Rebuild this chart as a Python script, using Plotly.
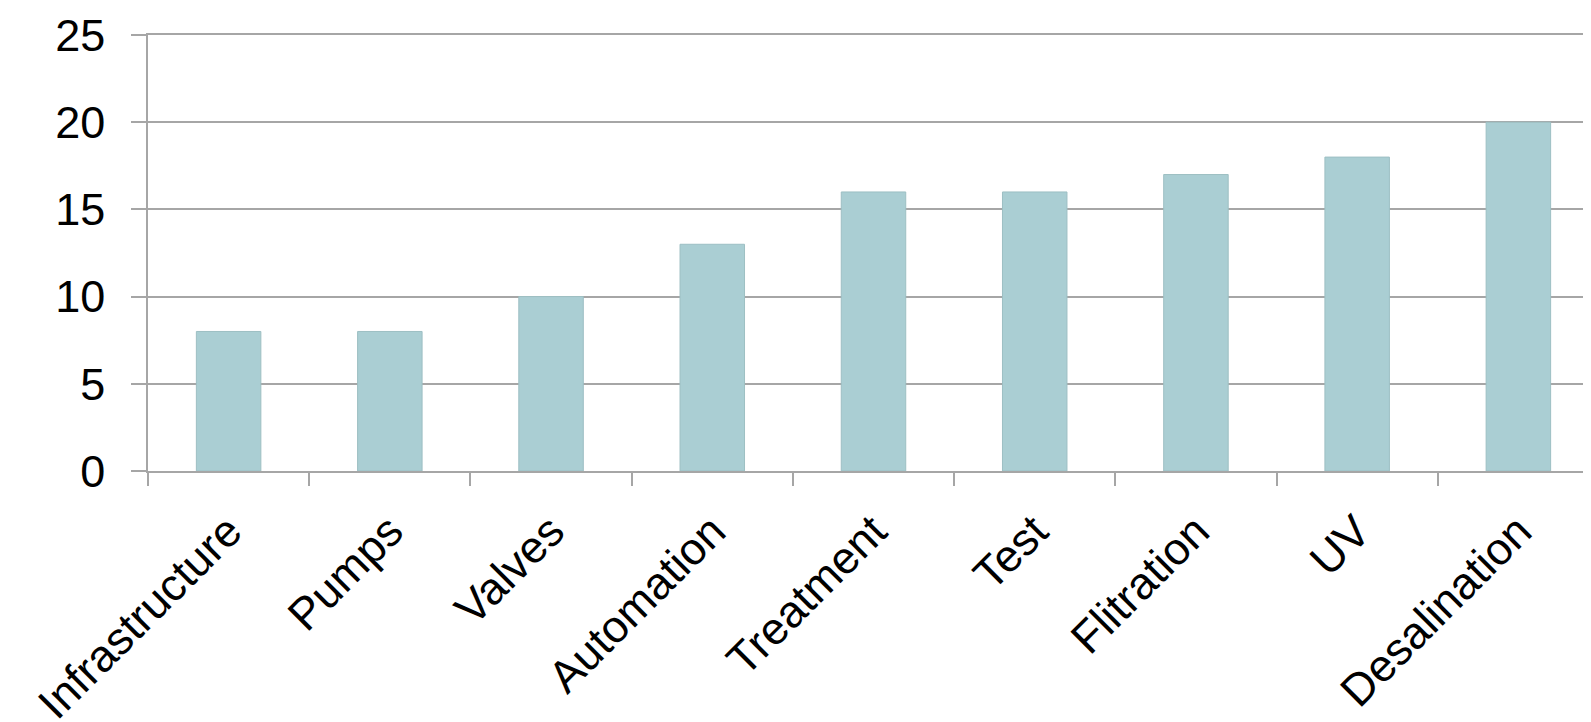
import plotly.graph_objects as go

categories = ["Infrastructure", "Pumps", "Valves", "Automation", "Treatment",
              "Test", "Flitration", "UV", "Desalination"]
values = [8, 8, 10, 13, 16, 16, 17, 18, 20]
y_ticks = [0, 5, 10, 15, 20, 25]

grid_color = "#A6A6A6"
font_family = "Liberation Sans, Arial, sans-serif"

fig = go.Figure()
fig.add_trace(go.Bar(
    x=categories,
    y=values,
    width=0.4,
    marker=dict(color="#AACED3", line=dict(color="#9DBFC3", width=1)),
    showlegend=False,
))

fig.update_layout(
    width=1591,
    height=722,
    margin=dict(l=140, r=0, t=27, b=259),
    paper_bgcolor="white",
    plot_bgcolor="white",
    font=dict(family=font_family, color="black", size=45),
    xaxis=dict(
        type="category",
        tickangle=-45,
        tickson="boundaries",
        ticks="outside",
        ticklen=13,
        tickwidth=1.5,
        tickcolor=grid_color,
        showline=True,
        mirror=True,
        linecolor=grid_color,
        linewidth=1.5,
        showgrid=False,
        ticklabelstandoff=14,
        tickfont=dict(size=45, family=font_family),
    ),
    yaxis=dict(
        range=[0, 25],
        tickvals=y_ticks,
        ticks="outside",
        ticklen=15,
        tickwidth=1.5,
        tickcolor=grid_color,
        showline=True,
        linecolor=grid_color,
        linewidth=1.5,
        showgrid=True,
        gridcolor=grid_color,
        gridwidth=1.5,
        zeroline=False,
        ticklabelstandoff=17,
        tickfont=dict(size=45, family=font_family),
    ),
    bargap=0.6,
)

fig.write_html("out.html")
